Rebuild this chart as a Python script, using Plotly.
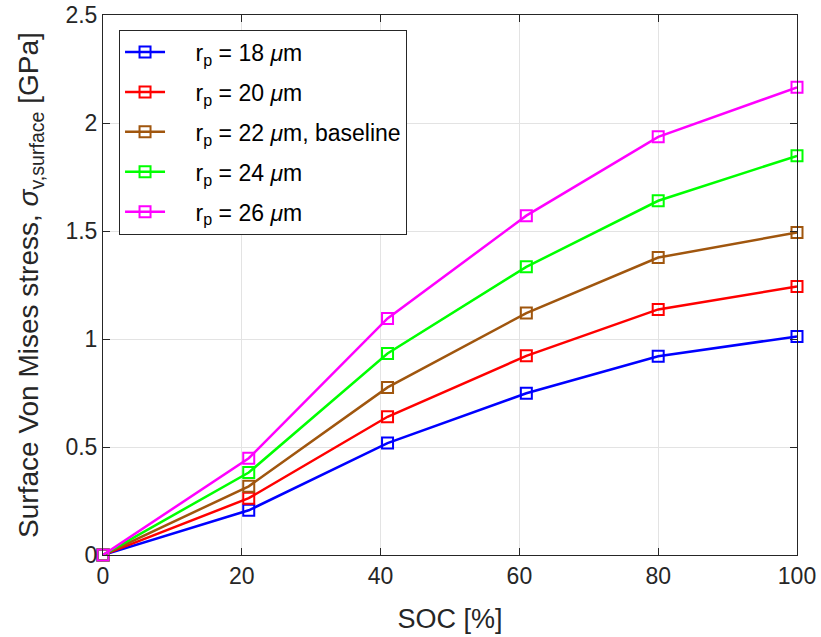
import plotly.graph_objects as go

soc = [0, 21, 41, 61, 80, 100]
stress_18 = [0, 0.207, 0.518, 0.749, 0.920, 1.012]
stress_20 = [0, 0.263, 0.640, 0.922, 1.137, 1.243]
stress_22 = [0, 0.318, 0.776, 1.120, 1.377, 1.493]
stress_24 = [0, 0.382, 0.933, 1.334, 1.640, 1.848]
stress_26 = [0, 0.448, 1.095, 1.571, 1.936, 2.165]

pad = "\u00a0\u00a0\u00a0\u00a0"
names = [pad + "r<sub>p</sub> = 18 <i>μ</i>m",
         pad + "r<sub>p</sub> = 20 <i>μ</i>m",
         pad + "r<sub>p</sub> = 22 <i>μ</i>m, baseline",
         pad + "r<sub>p</sub> = 24 <i>μ</i>m",
         pad + "r<sub>p</sub> = 26 <i>μ</i>m"]
colors = ["#0000FF", "#FF0000", "#A0560E", "#00FF00", "#FF00FF"]
series = [stress_18, stress_20, stress_22, stress_24, stress_26]

fig = go.Figure()
for i, (name, col, ys) in enumerate(zip(names, colors, series)):
    fig.add_trace(go.Scatter(
        x=soc, y=ys, name=name, mode="lines+markers", legendgroup=f"g{i}",
        line=dict(color=col, width=2.5),
        marker=dict(symbol="square-open", size=11, color=col, line=dict(width=2, color=col)),
        cliponaxis=False,
    ))

font = "Liberation Sans, Arial, sans-serif"
axis_common = dict(
    showline=True, linecolor="#262626", linewidth=1, mirror="ticks",
    ticks="inside", ticklen=7, tickcolor="#262626",
    showgrid=True, gridcolor="#E3E3E3", gridwidth=1,
    zeroline=False, automargin=False, ticklabeloverflow="allow",
    tickfont=dict(family=font, size=23, color="#262626"),
)

fig.update_layout(
    width=821, height=637,
    margin=dict(l=103, r=24, t=15, b=82, autoexpand=False),
    paper_bgcolor="white", plot_bgcolor="white",
    font=dict(family=font, color="#262626"),
    xaxis=dict(range=[0, 100], tickvals=[0, 20, 40, 60, 80, 100],
               title=dict(text="SOC [%]", font=dict(family=font, size=27, color="#262626"), standoff=21),
               **axis_common),
    yaxis=dict(range=[0, 2.5], tickvals=[0, 0.5, 1, 1.5, 2, 2.5],
               ticktext=["0", "0.5", "1", "1.5", "2", "2.5"],
               title=dict(text="Surface Von Mises stress, <i>σ</i><sub>v,surface</sub> [GPa]",
                          font=dict(family=font, size=28, color="#262626"), standoff=18),
               **axis_common),
    legend=dict(x=0.0231, y=0.973, xanchor="left", yanchor="top",
                bordercolor="#262626", borderwidth=1, bgcolor="white",
                font=dict(family=font, size=23, color="#000000"),
                tracegroupgap=7, itemwidth=40),
    showlegend=True,
)

# remove the default 8px page margin so the 821x637 figure fills the window
fig.write_html("out.html", config={"displayModeBar": False},
               post_script="document.body.style.margin='0px';")
